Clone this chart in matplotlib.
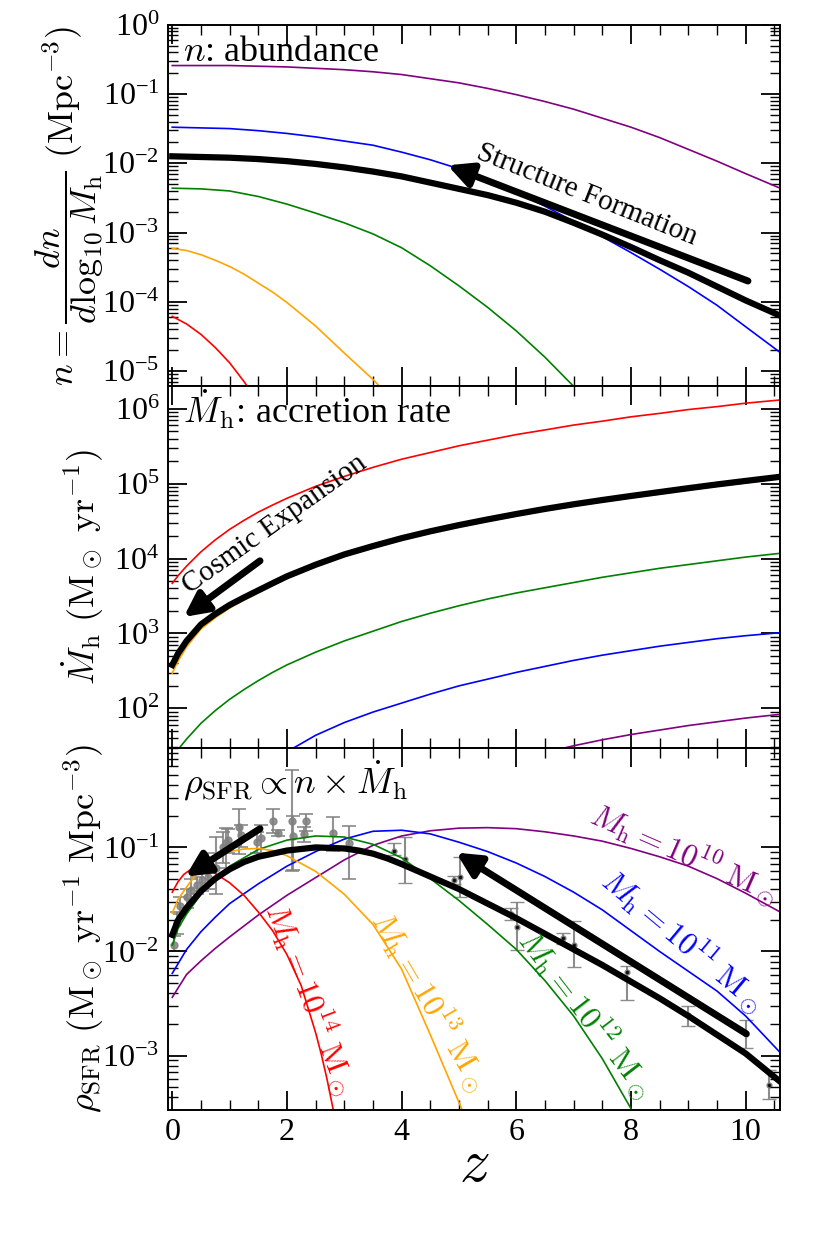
import matplotlib

matplotlib.use("agg")
import matplotlib.pyplot as plt
import numpy as np
from matplotlib.ticker import LogLocator, LogFormatterMathtext, MultipleLocator, NullFormatter

plt.rcParams["font.family"] = "serif"
plt.rcParams["font.serif"] = ["Liberation Serif", "DejaVu Serif"]
plt.rcParams["mathtext.fontset"] = "cm"

# halo masses (log10 Msun) and the colour used for each
halo_masses = [10, 11, 12, 13, 14]
halo_colors = ["purple", "blue", "green", "orange", "red"]

# ---- top panel: abundance n (log10 Mpc^-3) ----
z_n = [0, 0.5, 1, 1.5, 2, 2.5, 3, 3.5, 4, 4.5, 5, 5.5, 6, 6.5, 7, 7.5, 8, 8.5, 9, 9.5, 10, 10.6]
logn_m10 = [-0.59, -0.59, -0.59, -0.60, -0.61, -0.63, -0.65, -0.68, -0.72, -0.78, -0.84,
            -0.92, -1.01, -1.11, -1.22, -1.35, -1.48, -1.63, -1.80, -1.97, -2.15, -2.36]
logn_m11 = [-1.48, -1.49, -1.50, -1.53, -1.57, -1.62, -1.68, -1.74, -1.84, -1.95, -2.08,
            -2.24, -2.42, -2.62, -2.84, -3.06, -3.29, -3.53, -3.78, -4.05, -4.36, -4.73]
logn_eff = [-1.90, -1.91, -1.92, -1.94, -1.97, -2.01, -2.06, -2.12, -2.19, -2.28, -2.37,
            -2.46, -2.57, -2.70, -2.86, -3.03, -3.21, -3.40, -3.58, -3.78, -3.98, -4.20]
z_n12 = [0, 0.5, 1, 1.5, 2, 2.5, 3, 3.5, 4, 4.5, 5, 5.5, 6, 6.5, 7, 7.5]
logn_m12 = [-2.36, -2.37, -2.40, -2.48, -2.59, -2.72, -2.86, -3.02, -3.22, -3.48, -3.77,
            -4.08, -4.42, -4.80, -5.22, -5.65]
z_n13 = [0, 0.25, 0.5, 0.75, 1, 1.25, 1.5, 1.75, 2, 2.5, 3, 3.5, 4]
logn_m13 = [-3.23, -3.26, -3.32, -3.40, -3.49, -3.60, -3.73, -3.86, -4.01, -4.35, -4.74,
            -5.12, -5.55]
z_n14 = [0, 0.25, 0.5, 0.75, 1, 1.25, 1.5]
logn_m14 = [-4.21, -4.32, -4.47, -4.66, -4.88, -5.15, -5.45]

# ---- middle panel: accretion rate (log10 Msun/yr) ----
z_acc = [0, 0.1, 0.25, 0.5, 0.75, 1, 1.25, 1.5, 1.75, 2, 2.5, 3, 3.5, 4, 4.5, 5, 5.5, 6,
         6.5, 7, 7.5, 8, 8.5, 9, 9.5, 10, 10.6]
logacc_m14 = [3.67, 3.77, 3.90, 4.09, 4.25, 4.39, 4.51, 4.62, 4.715, 4.805, 4.965, 5.097,
              5.218, 5.327, 5.416, 5.506, 5.581, 5.656, 5.718, 5.783, 5.835, 5.893, 5.939,
              5.99, 6.029, 6.075, 6.118]
logacc_eff = [2.58, 2.73, 2.90, 3.12, 3.26, 3.38, 3.48, 3.575, 3.67, 3.763, 3.918, 4.055,
              4.167, 4.272, 4.364, 4.447, 4.523, 4.595, 4.663, 4.725, 4.782, 4.836, 4.888,
              4.94, 4.99, 5.037, 5.092]
logacc_m13 = [2.47, 2.63, 2.82, 3.06, 3.21, 3.34, 3.445, 3.545, 3.645, 3.738, 3.893, 4.03,
              4.142, 4.247, 4.339, 4.422, 4.498, 4.57, 4.638, 4.70, 4.757, 4.811, 4.863,
              4.915, 4.965, 5.012, 5.067]
logacc_m12 = [1.34, 1.45, 1.59, 1.80, 1.97, 2.12, 2.25, 2.37, 2.48, 2.58, 2.75, 2.90, 3.03,
              3.16, 3.27, 3.37, 3.46, 3.54, 3.61, 3.68, 3.75, 3.81, 3.87, 3.92, 3.97, 4.02, 4.07]
z_acc11 = [2.0, 2.25, 2.5, 3, 3.5, 4, 4.5, 5, 5.5, 6, 6.5, 7, 7.5, 8, 8.5, 9, 9.5, 10, 10.6]
logacc_m11 = [1.42, 1.53, 1.64, 1.81, 1.95, 2.07, 2.19, 2.30, 2.39, 2.48, 2.56, 2.64, 2.71,
              2.77, 2.83, 2.88, 2.93, 2.97, 3.01]
z_acc10 = [6.5, 7, 7.5, 8, 8.5, 9, 9.5, 10, 10.6]
logacc_m10 = [1.41, 1.50, 1.58, 1.65, 1.71, 1.77, 1.82, 1.87, 1.92]

# ---- bottom panel: SFR density (log10 Msun/yr/Mpc^3) ----
z_sfr = [0, 0.25, 0.5, 0.75, 1, 1.5, 2, 2.5, 3, 3.5, 4, 4.5, 5, 5.5, 6, 6.5, 7, 7.5, 8,
         8.5, 9, 9.5, 10, 10.6]
logsfr_m10 = [-2.44, -2.22, -2.09, -1.97, -1.86, -1.65, -1.46, -1.29, -1.12, -0.98, -0.89,
              -0.84, -0.815, -0.81, -0.82, -0.85, -0.89, -0.94, -1.01, -1.09, -1.18, -1.30,
              -1.44, -1.62]
logsfr_m11 = [-2.21, -1.98, -1.81, -1.67, -1.54, -1.35, -1.18, -1.04, -0.92, -0.845, -0.835,
              -0.87, -0.95, -1.04, -1.15, -1.28, -1.43, -1.60, -1.80, -2.00, -2.19, -2.38,
              -2.62, -2.97]
z_sfr_eff = [0, 0.1, 0.25, 0.5, 0.75, 1, 1.25, 1.5, 2, 2.5, 3, 3.25, 3.5, 3.75, 4, 4.5, 5,
             5.5, 6, 6.5, 7, 7.5, 8, 8.5, 9, 9.5, 10, 10.6]
logsfr_eff = [-1.84, -1.70, -1.58, -1.42, -1.30, -1.21, -1.14, -1.09, -1.03, -1.00, -1.01,
              -1.03, -1.06, -1.105, -1.16, -1.28, -1.40, -1.54, -1.68, -1.83, -1.98, -2.13,
              -2.29, -2.45, -2.62, -2.80, -2.98, -3.25]
z_sfr12 = [0, 0.1, 0.25, 0.5, 0.75, 1, 1.5, 2, 2.5, 3, 3.5, 4, 4.5, 5, 5.5, 6, 6.5, 7, 7.5,
           8, 8.1]
logsfr_m12 = [-1.94, -1.78, -1.64, -1.45, -1.30, -1.18, -1.02, -0.93, -0.89, -0.90, -0.97,
              -1.10, -1.30, -1.51, -1.74, -1.98, -2.28, -2.62, -3.03, -3.51, -3.60]
z_sfr13 = [0, 0.1, 0.25, 0.5, 0.75, 1, 1.25, 1.5, 1.75, 2, 2.5, 3, 3.5, 4, 4.5, 5, 5.1]
logsfr_m13 = [-1.63, -1.50, -1.38, -1.20, -1.10, -1.04, -1.015, -1.01, -1.03, -1.08, -1.23,
              -1.45, -1.74, -2.17, -2.80, -3.45, -3.58]
z_sfr14 = [0, 0.1, 0.2, 0.3, 0.5, 0.75, 1, 1.25, 1.5, 1.75, 2, 2.25, 2.5, 2.6, 2.7, 2.8, 2.9]
logsfr_m14 = [-1.43, -1.33, -1.26, -1.22, -1.20, -1.25, -1.34, -1.46, -1.62, -1.80, -2.03,
              -2.33, -2.78, -2.99, -3.23, -3.50, -3.80]

# observed SFRD compilation: z, log value, log upper, log lower
obs_lowz_z = [0.03, 0.09, 0.14, 0.26, 0.32, 0.43, 0.52, 0.62, 0.77, 0.88, 0.93, 0.98, 1.17,
              1.19, 1.48, 1.55, 1.75, 1.85, 2.08, 2.10, 2.29, 2.33, 2.80, 3.09]
obs_lowz_val = [-1.94, -1.73, -1.56, -1.48, -1.41, -1.36, -1.31, -1.28, -1.20, -1.00, -0.96,
                -0.93, -0.80, -0.88, -0.95, -0.91, -0.75, -0.86, -0.75, -0.89, -0.87, -0.75,
                -0.86, -0.96]
obs_lowz_hi = [-1.85, -1.62, -1.48, -1.40, -1.30, -1.28, -1.22, -1.05, -0.90, -0.85, -0.81,
               -0.82, -0.63, -0.78, -0.85, -0.78, -0.63, -0.83, -0.26, -0.70, -0.80, -0.68,
               -0.71, -0.79]
obs_lowz_lo = [-2.00, -1.83, -1.64, -1.58, -1.50, -1.45, -1.42, -1.40, -1.45, -1.15, -1.20,
               -1.05, -1.06, -1.00, -1.05, -1.05, -0.86, -0.89, -1.23, -1.22, -0.95, -0.84,
               -1.03, -1.30]
obs_highz_z = [3.86, 4.06, 4.91, 5.01, 5.91, 6.01, 6.81, 7.01, 7.93, 9.00, 10.01, 10.40]
obs_highz_val = [-1.03, -1.11, -1.31, -1.28, -1.64, -1.76, -1.87, -1.94, -2.20, -2.61, -2.79, -3.28]
obs_highz_hi = [-0.96, -0.90, -1.27, -1.09, -1.58, -1.52, -1.82, -1.71, -2.14, -2.52, -2.66, -3.14]
obs_highz_lo = [-1.07, -1.34, -1.35, -1.48, -1.70, -1.99, -1.93, -2.15, -2.47, -2.72, -2.93, -3.42]


def p10(a):
    return 10.0 ** np.asarray(a)


def style_axis(ax, ylim):
    ax.set_yscale("log")
    ax.set_xlim(-0.08, 10.6)
    ax.set_ylim(*ylim)
    ax.xaxis.set_major_locator(MultipleLocator(2))
    ax.xaxis.set_minor_locator(MultipleLocator(0.5))
    ax.yaxis.set_major_locator(LogLocator(base=10, numticks=20))
    ax.yaxis.set_minor_locator(LogLocator(base=10, subs=np.arange(2, 10), numticks=20))
    ax.yaxis.set_major_formatter(LogFormatterMathtext())
    ax.yaxis.set_minor_formatter(NullFormatter())
    ax.tick_params(which="both", direction="in", top=True, right=True, labelsize=23)
    ax.tick_params(which="major", length=14, width=1.3, pad=6)
    ax.tick_params(which="minor", length=7, width=1.0)
    for sp in ax.spines.values():
        sp.set_linewidth(1.4)
    ax.yaxis.set_label_coords(-0.1, 0.5)


def big_arrow(ax, tip, tail):
    ax.annotate("", xy=tip, xytext=tail,
                arrowprops=dict(arrowstyle="-|>", lw=5, color="black", mutation_scale=36,
                                shrinkA=0, shrinkB=0))


fig, (ax1, ax2, ax3) = plt.subplots(3, 1, figsize=(8.22, 12.33), dpi=100, sharex=True)
fig.subplots_adjust(left=0.204, right=0.949, top=0.980, bottom=0.100, hspace=0)

lw_thin = 1.2
lw_thick = 4.5

# top: abundance
ax1.plot(z_n, p10(logn_m10), color="purple", lw=lw_thin)
ax1.plot(z_n, p10(logn_m11), color="blue", lw=lw_thin)
ax1.plot(z_n12, p10(logn_m12), color="green", lw=lw_thin)
ax1.plot(z_n13, p10(logn_m13), color="orange", lw=lw_thin)
ax1.plot(z_n14, p10(logn_m14), color="red", lw=lw_thin)
ax1.plot(z_n, p10(logn_eff), color="black", lw=lw_thick)
style_axis(ax1, (10 ** -5.22, 1.0))
ax1.set_ylabel(r"$n=\dfrac{dn}{d\log_{10}M_{\rm h}}\ ({\rm Mpc}^{-3})$", fontsize=26)
ax1.text(0.025, 0.90, r"$n$: abundance", transform=ax1.transAxes, fontsize=26)
big_arrow(ax1, (4.8, 10 ** -2.03), (10.04, 10 ** -3.70))
ax1.text(7.22, 10 ** -2.46, "Structure Formation", rotation=-21.7, fontsize=21,
         ha="center", va="center", rotation_mode="anchor")

# middle: accretion rate
ax2.plot(z_acc, p10(logacc_m14), color="red", lw=lw_thin)
ax2.plot(z_acc, p10(logacc_m13), color="orange", lw=lw_thin)
ax2.plot(z_acc, p10(logacc_m12), color="green", lw=lw_thin)
ax2.plot(z_acc11, p10(logacc_m11), color="blue", lw=lw_thin)
ax2.plot(z_acc10, p10(logacc_m10), color="purple", lw=lw_thin)
ax2.plot(z_acc, p10(logacc_eff), color="black", lw=lw_thick)
style_axis(ax2, (10 ** 1.47, 10 ** 6.30))
ax2.set_ylabel(r"$\dot{M}_{\rm h}\ ({\rm M_\odot\ yr^{-1}})$", fontsize=26)
ax2.text(0.025, 0.90, r"$\dot{M}_{\rm h}$: accretion rate", transform=ax2.transAxes, fontsize=26)
big_arrow(ax2, (0.2, 10 ** 3.22), (1.53, 10 ** 3.97))
ax2.text(1.79, 10 ** 4.45, "Cosmic Expansion", rotation=35.6, fontsize=21,
         ha="center", va="center", rotation_mode="anchor")

# bottom: SFR density
def err(vals, hi, lo):
    v = p10(vals)
    return v, [v - p10(lo), p10(hi) - v]


v, e = err(obs_lowz_val, obs_lowz_hi, obs_lowz_lo)
ax3.errorbar(obs_lowz_z, v, yerr=e, fmt="o", ms=5, color="gray", ecolor="gray",
             elinewidth=1.5, capsize=5, capthick=1.3, alpha=0.85, zorder=1)
v, e = err(obs_highz_val, obs_highz_hi, obs_highz_lo)
ax3.errorbar(obs_highz_z, v, yerr=e, fmt="o", ms=3.5, mfc="black", mec="gray", mew=1,
             ecolor="gray", elinewidth=1.5, capsize=5, capthick=1.3, alpha=0.9, zorder=1)

ax3.plot(z_sfr, p10(logsfr_m10), color="purple", lw=lw_thin)
ax3.plot(z_sfr, p10(logsfr_m11), color="blue", lw=lw_thin)
ax3.plot(z_sfr12, p10(logsfr_m12), color="green", lw=lw_thin)
ax3.plot(z_sfr13, p10(logsfr_m13), color="orange", lw=lw_thin)
ax3.plot(z_sfr14, p10(logsfr_m14), color="red", lw=lw_thin)
ax3.plot(z_sfr_eff, p10(logsfr_eff), color="black", lw=lw_thick)
style_axis(ax3, (10 ** -3.52, 10 ** -0.045))
ax3.set_ylabel(r"$\rho_{\rm SFR}\ ({\rm M_\odot\ yr^{-1}\ Mpc^{-3}})$", fontsize=26)
ax3.set_xlabel(r"$z$", fontsize=44, labelpad=-6)
ax3.text(0.025, 0.875, r"$\rho_{\rm SFR} \propto n \times \dot{M}_{\rm h}$",
         transform=ax3.transAxes, fontsize=26)
big_arrow(ax3, (0.23, 10 ** -1.28), (1.53, 10 ** -0.82))
big_arrow(ax3, (4.95, 10 ** -1.05), (10.01, 10 ** -2.79))

# curve labels: (z, log rho, rotation)
label_pos = {10: (8.93, -1.06, -23.7), 11: (8.90, -1.90, -39.8), 12: (7.22, -2.60, -52.3),
             13: (4.48, -2.48, -59.6), 14: (2.40, -2.46, -68.9)}
for m, c in zip(halo_masses, halo_colors):
    zx, ly, rot = label_pos[m]
    ax3.text(zx, 10 ** ly, r"$M_{\rm h}=10^{%d}\ {\rm M_\odot}$" % m, color=c, fontsize=23,
             rotation=rot, ha="center", va="center", rotation_mode="anchor")

ax3.set_xticks([0, 2, 4, 6, 8, 10])

fig.savefig("out.png", dpi=100, facecolor="white")
